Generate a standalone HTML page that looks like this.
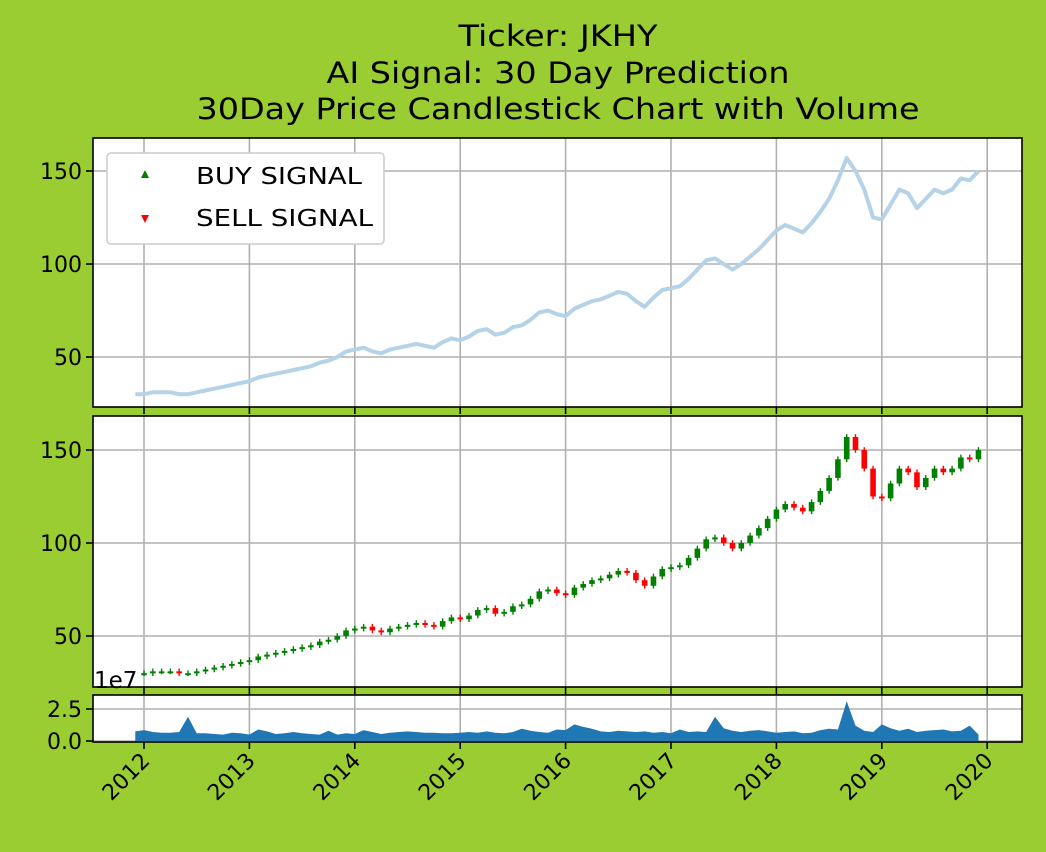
<!DOCTYPE html>
<html><head><meta charset="utf-8"><style>
body{margin:0;background:#9acd32;}
svg{display:block;font-family:"DejaVu Sans","Liberation Sans",sans-serif;}
</style></head><body>
<svg id="chart" width="1046" height="852">
<rect width="1046" height="852" fill="#9acd32"/>
<g font-size="29" text-anchor="middle" fill="#000">
<text x="558" y="46" textLength="199" lengthAdjust="spacingAndGlyphs">Ticker: JKHY</text>
<text x="558" y="83" textLength="463" lengthAdjust="spacingAndGlyphs">AI Signal: 30 Day Prediction</text>
<text x="558" y="119" textLength="723" lengthAdjust="spacingAndGlyphs">30Day Price Candlestick Chart with Volume</text>
</g>
<g id="g1"></g>
<g id="g2"></g>
<g id="g3"></g>
<g id="gx"></g>
<g>
<rect x="107" y="153" width="277" height="91" rx="4" fill="#fff" stroke="#ccc" stroke-width="1.5"/>
<polygon points="145,170 141,178 149,178" fill="green"/>
<text x="196" y="184" font-size="23" textLength="166" lengthAdjust="spacingAndGlyphs">BUY SIGNAL</text>
<polygon points="145,223 141,215 149,215" fill="red"/>
<text x="196" y="226" font-size="23" textLength="177" lengthAdjust="spacingAndGlyphs">SELL SIGNAL</text>
</g>
<text x="94" y="688" font-size="23">1e7</text>
</svg>
<script>
const startYear = 2011.917;
const closes = [30,
30,31,31,31,30,30,31,32,33,34,35,36,
37,39,40,41,42,43,44,45,47,48,50,53,
54,55,53,52,54,55,56,57,56,55,58,60,
59,61,64,65,62,63,66,67,70,74,75,73,
72,76,78,80,81,83,85,84,80,77,82,86,
87,88,92,97,102,103,100,97,100,104,108,113,
118,121,119,117,122,128,135,145,157,150,140,125,
124,132,140,138,130,135,140,138,140,146,145,150];
const volumes = [0.75,
0.85,0.7,0.65,0.65,0.7,1.9,0.6,0.6,0.55,0.5,0.65,0.6,
0.5,0.9,0.75,0.55,0.6,0.7,0.6,0.55,0.5,0.8,0.5,0.6,
0.55,0.85,0.7,0.55,0.65,0.7,0.75,0.7,0.65,0.65,0.6,0.6,
0.65,0.7,0.65,0.75,0.65,0.6,0.7,0.95,0.8,0.7,0.65,0.9,
0.85,1.3,1.1,0.95,0.75,0.7,0.8,0.75,0.7,0.75,0.65,0.7,
0.6,0.9,0.7,0.75,0.7,1.9,1.0,0.8,0.7,0.8,0.85,0.75,
0.65,0.7,0.75,0.6,0.65,0.85,0.95,0.9,3.1,1.2,0.8,0.7,
1.3,1.0,0.8,0.95,0.7,0.8,0.85,0.9,0.75,0.8,1.2,0.5];
const xTicks = [2012,2013,2014,2015,2016,2017,2018,2019,2020];
const priceTicks = [50,100,150];
const volTicks = [0.0,2.5];
const NS="http://www.w3.org/2000/svg";
function el(p,t,a){const e=document.createElementNS(NS,t);for(const k in a)e.setAttribute(k,a[k]);p.appendChild(e);return e;}
const xs = yr => 144 + (yr-2012)*105.4;
const y1 = v => 357 - (v-50)*1.86;
const y2 = v => 636 - (v-50)*1.86;
const y3 = v => 741 - v*12.8;
const L=93,R=1022;
const panels=[[document.getElementById('g1'),138,407,y1,priceTicks],[document.getElementById('g2'),416,687,y2,priceTicks],[document.getElementById('g3'),695,742,y3,volTicks]];
panels.forEach(([g,t,b,yf,ticks],pi)=>{
  el(g,'rect',{x:L,y:t,width:R-L,height:b-t,fill:'#fff'});
  xTicks.forEach(yr=>{const l=el(g,'line',{x1:xs(yr),x2:xs(yr),y1:t,y2:b,stroke:'#b0b0b0','stroke-width':1.6});
    
    
    el(g,'line',{x1:xs(yr),x2:xs(yr),y1:b,y2:b+7,stroke:'#000','stroke-width':1.6});});
  ticks.forEach(v=>{const l=el(g,'line',{x1:L,x2:R,y1:yf(v),y2:yf(v),stroke:'#b0b0b0','stroke-width':1.6});
    
    
    el(g,'line',{x1:L-7,x2:L,y1:yf(v),y2:yf(v),stroke:'#000','stroke-width':1.6});
    const tx=el(g,'text',{x:L-11,y:yf(v)+8,'font-size':22,'text-anchor':'end'});
    tx.textContent = pi==2? v.toFixed(1) : v;
    
    });
});
const g1=document.getElementById('g1');
let d=closes.map((c,i)=>(i?'L':'M')+xs(startYear+i/12).toFixed(1)+','+y1(c).toFixed(1)).join(' ');
const pl=el(g1,'path',{d:d,fill:'none',stroke:'#b4d2e8','stroke-width':4,'stroke-linejoin':'round'});


const g2=document.getElementById('g2');
for(let i=1;i<closes.length;i++){
  const o=closes[i-1],c=closes[i],x=xs(startYear+i/12);
  const col=c>=o?'green':'red';
  const hi=Math.max(o,c)+1.5,lo=Math.min(o,c)-1.5;
  const cg=el(g2,'g',{});
  
  
  el(cg,'line',{x1:x,x2:x,y1:y2(hi),y2:y2(lo),stroke:col,'stroke-width':1.4});
  el(cg,'rect',{x:x-2.8,y:y2(Math.max(o,c)),width:5.6,height:Math.max(2,Math.abs(y2(o)-y2(c))),fill:col});
}
const g3=document.getElementById('g3');
let vd='M'+xs(startYear)+','+y3(0)+' '+volumes.map((v,i)=>'L'+xs(startYear+i/12).toFixed(1)+','+y3(v).toFixed(1)).join(' ')+' L'+xs(startYear+(volumes.length-1)/12).toFixed(1)+','+y3(0)+' Z';
const va=el(g3,'path',{d:vd,fill:'#1f77b4'});


panels.forEach(([g,t,b])=>el(g,'rect',{x:L,y:t,width:R-L,height:b-t,fill:'none',stroke:'#000','stroke-width':1.6}));
const gx=document.getElementById('gx');
xTicks.forEach(yr=>{const x=xs(yr)+7,y=762;
  const t=el(gx,'text',{x:x,y:y,'font-size':22,'text-anchor':'end',transform:`rotate(-45 ${x} ${y})`});
  t.textContent=yr;
  
  });
</script>
</body></html>
